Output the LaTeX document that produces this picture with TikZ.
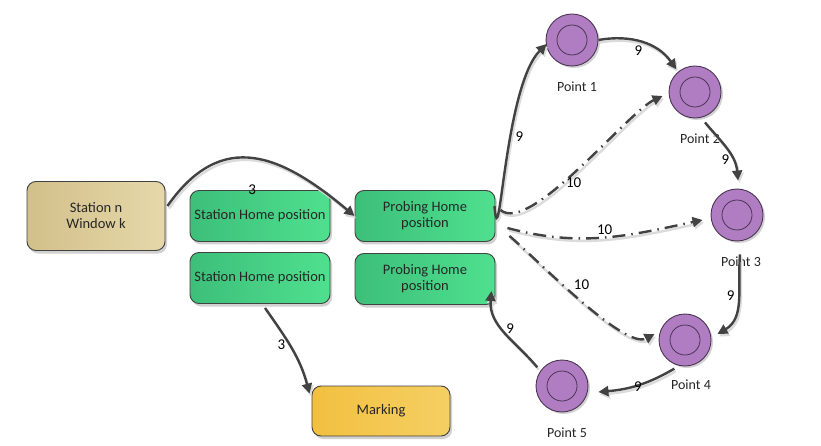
\documentclass[tikz,border=0pt]{standalone}
\usepackage{fontspec}
\setmainfont{Carlito}
\usetikzlibrary{arrows.meta,shadows,calc}
\definecolor{edgec}{HTML}{424242}
\definecolor{greenA}{HTML}{3DBF7A}
\definecolor{greenB}{HTML}{4FE08F}
\definecolor{tanA}{HTML}{D2C08A}
\definecolor{tanB}{HTML}{E6D8AA}
\definecolor{goldA}{HTML}{F2C040}
\definecolor{goldB}{HTML}{F5CF63}
\definecolor{purp}{HTML}{B07DC2}
\definecolor{purpd}{HTML}{4A3552}
\tikzset{
  box/.style={draw=edgec, line width=0.9pt, rounded corners=9pt, minimum width=140pt, minimum height=51pt, align=center, font=\fontsize{14.5}{16}\selectfont, text=black!85, inner sep=1pt, drop shadow={shadow xshift=2pt, shadow yshift=-3pt, fill=black!18, opacity=1}},
  greenbox/.style={box, left color=greenA, right color=greenB},
  pt/.style={circle, draw=purpd, line width=0.9pt, fill=purp, minimum size=52pt, inner sep=0pt, drop shadow={shadow xshift=2pt, shadow yshift=-2pt, fill=black!18, opacity=1}},
  inner/.style={circle, draw=purpd, line width=0.8pt, minimum size=30pt, inner sep=0pt},
  ptlabel/.style={font=\fontsize{14}{16}\selectfont, text=black!85},
  shad/.style={preaction={draw=black!14, line width=2.4pt, transform canvas={shift={(1.5pt,-2.5pt)}}}},
  conn/.style={shad, draw=edgec, line width=2.4pt, -{Triangle[length=10pt,width=10pt]}},
  dconn/.style={shad, draw=edgec, line width=2.4pt, dash pattern=on 13pt off 6pt on 1.5pt off 6pt, -{Triangle[length=10pt,width=10pt]}},
  elabel/.style={font=\fontsize{15}{16}\selectfont, text=black, inner sep=1pt}
}
\begin{document}
\begin{tikzpicture}[x=1pt,y=-1pt]
\useasboundingbox (0,0) rectangle (821,446);
\node[box, left color=tanA, right color=tanB, minimum width=138pt, minimum height=69pt] (stn) at (96,216) {Station n\\Window k};
\node[greenbox] (sh1) at (260,216) {Station Home position};
\node[greenbox] (sh2) at (260,278) {Station Home position};
\node[greenbox] (ph1) at (425,216) {Probing Home\\position};
\node[greenbox] (ph2) at (425,279) {Probing Home\\position};
\node[box, left color=goldA, right color=goldB, minimum width=138pt, minimum height=50pt] (mark) at (381,411) {Marking};
\foreach \n/\x/\y in {p1/572/40, p2/695/92, p3/737/215, p4/685/340, p5/562/386}{
  \node[pt] (\n) at (\x,\y) {};
  \node[inner] at (\n) {};
}
\node[ptlabel] (l1) at (577,87) {Point 1};
\node[ptlabel] (l2) at (700,139) {Point 2};
\node[ptlabel] (l3) at (741,262) {Point 3};
\node[ptlabel] (l4) at (691,385) {Point 4};
\node[ptlabel] (l5) at (567,433) {Point 5};
% solid connectors
\draw[conn] (stn.east) ++(2,-10) coordinate (s0) to[out=55,in=140,looseness=1.3] node[elabel, pos=0.49, below=24pt] {3} (ph1.west);
\draw[conn] ($(sh2.south)+(5,4)$) coordinate (s1) to[out=-55,in=105] node[elabel, pos=0.45, left=2pt] {3} ($(mark.north west)+(-2,8)$) coordinate (m0);
\draw[conn] ($(ph1.east)+(-1,-10)$) coordinate (s2) to[out=-85,in=-135,looseness=0.9] node[elabel, pos=0.6, right=2pt] {9} ($(p1.west)+(1,4)$);
\draw[conn] (p1.east) to[out=10,in=125] node[elabel, pos=0.45, below=2pt] {9} ($(p2.north west)+(0,-4)$);
\draw[conn] ($(p2.south)+(10,4)$) coordinate (s3) to[out=-50,in=95] node[elabel, pos=0.68, left=1pt] {9} ($(p3.north)+(1,-8)$);
\draw[conn] ($(p3.south)+(3,13)$) coordinate (s4) to[out=-95,in=30] node[elabel, pos=0.45, left=2pt] {9} ($(p4.east)+(6,-6)$);
\draw[conn] ($(p4.south west)+(8,10)$) coordinate (s5) to[out=-150,in=5] node[elabel, pos=0.5, yshift=-1pt] {9} ($(p5.east)+(10,6)$);
\draw[conn] ($(p5.north west)+(-6,0)$) coordinate (s6) to[out=130,in=-95] node[elabel, pos=0.55, right=2pt] {9} ($(ph2.east)+(-4,12)$);
% dash-dot connectors
\draw[dconn] ($(ph1.east)+(5,-6)$) coordinate (d1) to[out=-40,in=-155,looseness=0.5] node[elabel, pos=0.47, below=2pt] {10} ($(p2.west)+(-6,4)$);
\draw[dconn] ($(ph1.east)+(12,12)$) coordinate (d2) to[out=-15,in=-168] node[elabel, pos=0.5, above=1pt] {10} ($(p3.west)+(-8,5)$);
\draw[dconn] ($(ph1.east)+(14,20)$) coordinate (d3) to[out=-40,in=-152,looseness=0.5] node[elabel, pos=0.45, above right=0pt] {10} ($(p4.west)+(-4,-6)$);
\end{tikzpicture}
\end{document}
